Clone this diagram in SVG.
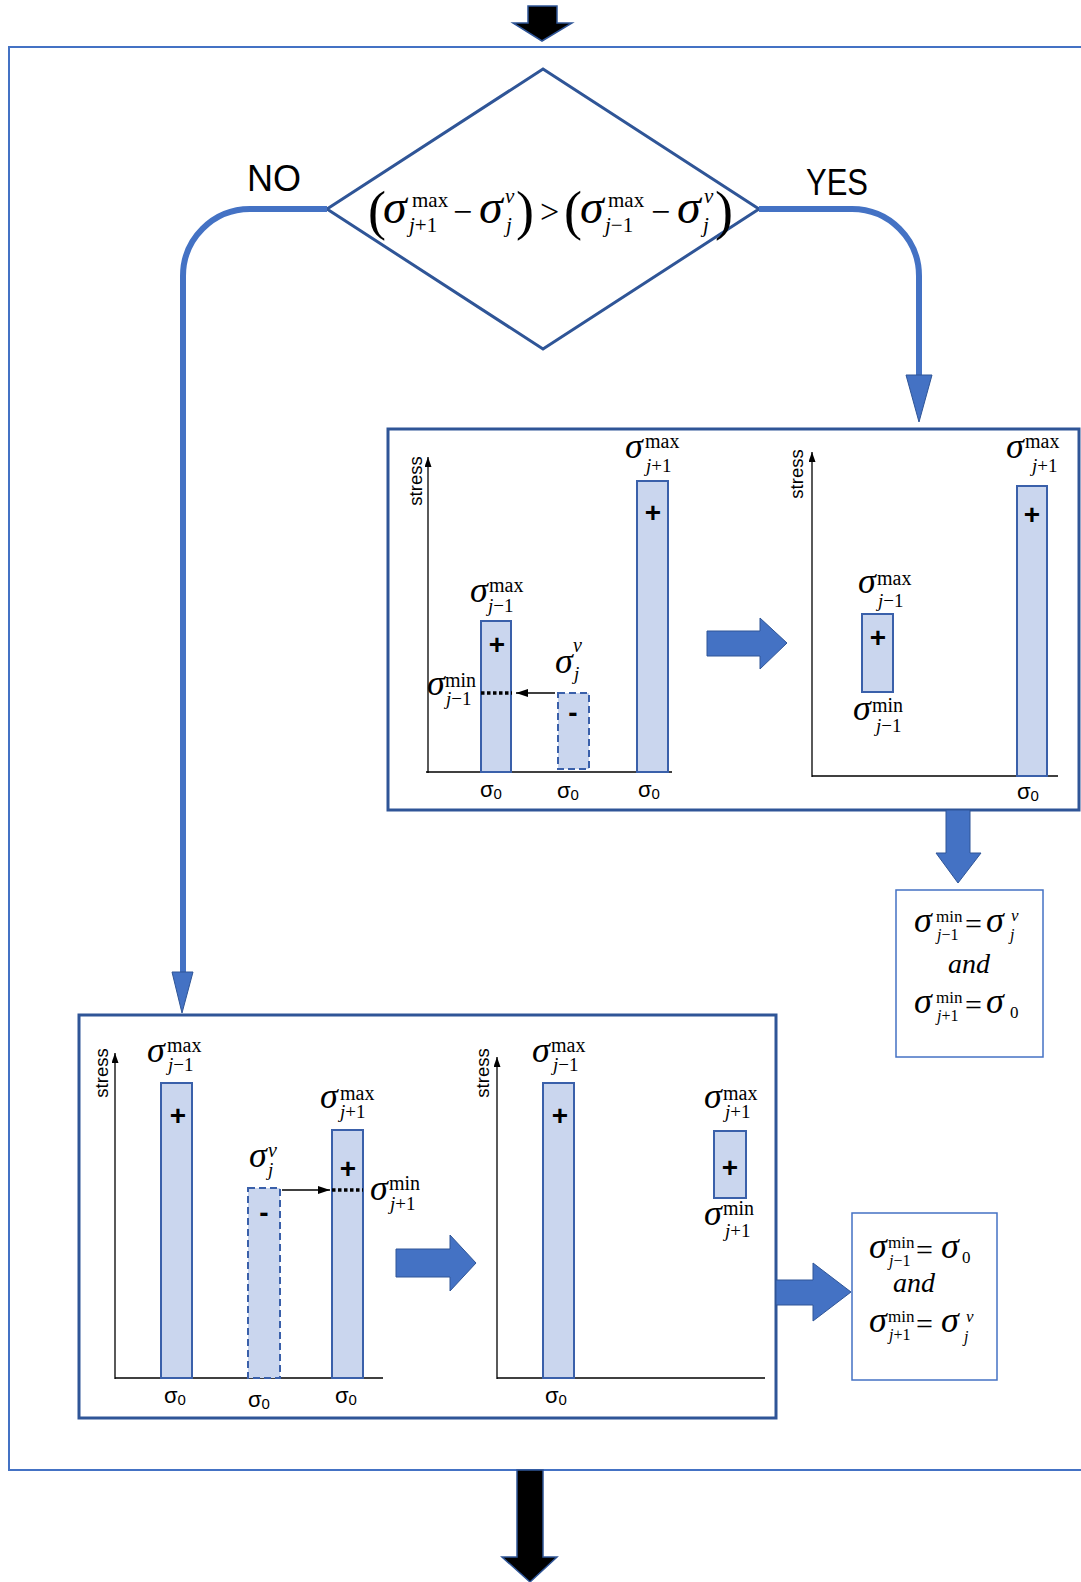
<svg xmlns="http://www.w3.org/2000/svg" width="1081" height="1582" viewBox="0 0 1081 1582">
<style>
.bg{fill:#ffffff}
.outer{fill:none;stroke:#4472C4;stroke-width:2}
.panel{fill:#ffffff;stroke:#2F5597;stroke-width:3}
.res{fill:#ffffff;stroke:#4472C4;stroke-width:1.5}
.bar{fill:#CAD6EE;stroke:#3A60AA;stroke-width:2}
.dbar{fill:#CAD6EE;stroke:#3A60AA;stroke-width:2;stroke-dasharray:7 4}
.axis{fill:none;stroke:#000;stroke-width:1.3}
.dot{fill:none;stroke:#000;stroke-width:3.5;stroke-dasharray:3.5 2.5}
.thin{fill:none;stroke:#000;stroke-width:1.5}
.conn{fill:none;stroke:#4472C4;stroke-width:6}
.head{fill:#4472C4;stroke:#2F5597;stroke-width:1}
.block{fill:#4472C4;stroke:#2F5597;stroke-width:1}
.black{fill:#000;stroke:#2F5597;stroke-width:1.5}
.sig{font-family:"Liberation Serif",serif;font-style:italic;font-size:36px;fill:#000}
.sup{font-family:"Liberation Serif",serif;font-size:20px;fill:#000}
.sub{font-family:"Liberation Serif",serif;font-size:19px;fill:#000}
.rsup{font-family:"Liberation Serif",serif;font-size:17px;fill:#000}
.rsub{font-family:"Liberation Serif",serif;font-size:16px;fill:#000}
.eq{font-family:"Liberation Serif",serif;font-size:30px;fill:#000}
.and{font-family:"Liberation Serif",serif;font-style:italic;font-size:28px;fill:#000}
.it{font-style:italic}
.fsig{font-family:"Liberation Serif",serif;font-style:italic;font-size:48px;fill:#000}
.fscr{font-family:"Liberation Serif",serif;font-size:21px;fill:#000}
.fop{font-family:"Liberation Serif",serif;font-size:34px;fill:#000}
.par{font-family:"Liberation Serif",serif;font-size:54px;fill:#000}
.stress{font-family:"Liberation Sans",sans-serif;font-size:18.5px;fill:#000;text-anchor:middle}
.s0{font-family:"Liberation Sans",sans-serif;font-size:22px;fill:#000;text-anchor:middle}
.plus{font-family:"Liberation Sans",sans-serif;font-weight:bold;font-size:28px;fill:#000;text-anchor:middle}
.lbl{font-family:"Liberation Sans",sans-serif;font-size:36px;fill:#000}
</style>
<defs>
<marker id="ax" markerUnits="userSpaceOnUse" markerWidth="10" markerHeight="7" refX="10" refY="3.5" orient="auto"><path d="M0,0 L10,3.5 L0,7 z" fill="#000"/></marker>
<marker id="sa" markerUnits="userSpaceOnUse" markerWidth="12" markerHeight="8" refX="12" refY="4" orient="auto"><path d="M0,0 L12,4 L0,8 z" fill="#000"/></marker>
</defs>
<rect class="bg" x="0" y="0" width="1081" height="1582"/>

<g id="outer-frame">
<rect class="outer" x="9" y="47" width="1090" height="1423"/>
</g>

<g id="top-arrow">
<polygon class="black" points="528,6 557,6 557,23 572,23 542,41 513,23 528,23"/>
</g>
<g id="bottom-arrow">
<polygon class="black" points="517,1470 543,1470 543,1557 557,1557 530,1582 502,1557 517,1557"/>
</g>

<g id="decision">
<polygon points="543,69 759,209 543,349 327,209" fill="#fff" stroke="#2F5597" stroke-width="3"/>
<text class="par" x="368" y="229">(</text>
<text class="fsig" x="383" y="223">σ</text>
<text class="fscr" x="412" y="207">max</text>
<text class="fscr" x="409" y="232"><tspan class="it">j</tspan>+1</text>
<text class="fop" x="453" y="223">−</text>
<text class="fsig" x="479" y="223">σ</text>
<text class="fscr it" x="505" y="203">v</text>
<text class="fscr it" x="506" y="232">j</text>
<text class="par" x="516" y="229">)</text>
<text class="fop" x="540" y="223">&gt;</text>
<text class="par" x="564" y="229">(</text>
<text class="fsig" x="580" y="223">σ</text>
<text class="fscr" x="608" y="207">max</text>
<text class="fscr" x="605" y="232"><tspan class="it">j</tspan>−1</text>
<text class="fop" x="651" y="223">−</text>
<text class="fsig" x="677" y="223">σ</text>
<text class="fscr it" x="704" y="203">v</text>
<text class="fscr it" x="703" y="232">j</text>
<text class="par" x="715" y="229">)</text>
</g>

<g id="yes-panel">
<rect class="panel" x="388" y="429" width="691" height="381"/>
<!-- left chart -->
<line class="axis" x1="428" y1="773" x2="428" y2="457" marker-end="url(#ax)"/>
<line class="axis" x1="426" y1="772" x2="672" y2="772"/>
<text class="stress" transform="translate(422,481) rotate(-90)">stress</text>
<rect class="bar" x="481" y="621" width="30" height="151"/>
<rect class="dbar" x="558" y="693" width="31" height="76"/>
<rect class="bar" x="637" y="481" width="31" height="291"/>
<line class="dot" x1="481" y1="693" x2="512" y2="693"/>
<line class="thin" x1="555" y1="693" x2="516" y2="693" marker-end="url(#sa)"/>
<text class="plus" x="497" y="654">+</text>
<text class="plus" x="573" y="722">-</text>
<text class="plus" x="653" y="522">+</text>
<text class="sig" x="470" y="602">σ</text><text class="sup" x="489" y="592">max</text><text class="sub" x="488" y="612"><tspan class="it">j</tspan>−1</text>
<text class="sig" x="427" y="695">σ</text><text class="sup" x="445" y="687">min</text><text class="sub" x="446" y="705"><tspan class="it">j</tspan>−1</text>
<text class="sig" x="555" y="673">σ</text><text class="sup it" x="573" y="652">v</text><text class="sub it" x="574" y="680">j</text>
<text class="sig" x="625" y="458">σ</text><text class="sup" x="645" y="448">max</text><text class="sub" x="646" y="472"><tspan class="it">j</tspan>+1</text>
<text class="s0" x="491" y="797">σ<tspan font-size="15" dy="2">0</tspan></text>
<text class="s0" x="568" y="798">σ<tspan font-size="15" dy="2">0</tspan></text>
<text class="s0" x="649" y="797">σ<tspan font-size="15" dy="2">0</tspan></text>
<!-- block arrow -->
<polygon class="block" points="707,631 760,631 760,618 787,643 760,669 760,656 707,656"/>
<!-- right chart -->
<line class="axis" x1="812" y1="777" x2="812" y2="452" marker-end="url(#ax)"/>
<line class="axis" x1="812" y1="776" x2="1058" y2="776"/>
<text class="stress" transform="translate(803,474) rotate(-90)">stress</text>
<rect class="bar" x="862" y="614" width="31" height="78"/>
<rect class="bar" x="1017" y="486" width="30" height="290"/>
<text class="plus" x="878" y="647">+</text>
<text class="plus" x="1032" y="524">+</text>
<text class="sig" x="858" y="593">σ</text><text class="sup" x="877" y="585">max</text><text class="sub" x="878" y="607"><tspan class="it">j</tspan>−1</text>
<text class="sig" x="853" y="720">σ</text><text class="sup" x="872" y="712">min</text><text class="sub" x="876" y="732"><tspan class="it">j</tspan>−1</text>
<text class="sig" x="1006" y="458">σ</text><text class="sup" x="1025" y="448">max</text><text class="sub" x="1032" y="472"><tspan class="it">j</tspan>+1</text>
<text class="s0" x="1028" y="799">σ<tspan font-size="15" dy="2">0</tspan></text>
</g>

<g id="yes-result">
<rect class="res" x="896" y="890" width="147" height="167"/>
<text class="sig" x="914" y="932">σ</text><text class="rsup" x="936" y="922">min</text><text class="rsub" x="937" y="940"><tspan class="it">j</tspan>−1</text>
<text class="eq" x="965" y="934">=</text>
<text class="sig" x="986" y="932">σ</text><text class="rsup it" x="1011" y="921">v</text><text class="rsub it" x="1010" y="940">j</text>
<text class="and" x="948" y="973">and</text>
<text class="sig" x="914" y="1013">σ</text><text class="rsup" x="936" y="1003">min</text><text class="rsub" x="937" y="1021"><tspan class="it">j</tspan>+1</text>
<text class="eq" x="965" y="1015">=</text>
<text class="sig" x="986" y="1013">σ</text><text class="rsup" x="1010" y="1018">0</text>
</g>

<g id="no-panel">
<rect class="panel" x="79" y="1015" width="697" height="403"/>
<!-- left chart -->
<line class="axis" x1="115" y1="1379" x2="115" y2="1053" marker-end="url(#ax)"/>
<line class="axis" x1="115" y1="1378" x2="383" y2="1378"/>
<text class="stress" transform="translate(108,1073) rotate(-90)">stress</text>
<rect class="bar" x="161" y="1083" width="31" height="295"/>
<rect class="dbar" x="248" y="1188" width="32" height="190"/>
<rect class="bar" x="332" y="1130" width="31" height="248"/>
<line class="dot" x1="332" y1="1190" x2="363" y2="1190"/>
<line class="thin" x1="282" y1="1190" x2="330" y2="1190" marker-end="url(#sa)"/>
<text class="plus" x="178" y="1125">+</text>
<text class="plus" x="264" y="1222">-</text>
<text class="plus" x="348" y="1178">+</text>
<text class="sig" x="147" y="1062">σ</text><text class="sup" x="167" y="1052">max</text><text class="sub" x="168" y="1071"><tspan class="it">j</tspan>−1</text>
<text class="sig" x="320" y="1108">σ</text><text class="sup" x="340" y="1100">max</text><text class="sub" x="340" y="1118"><tspan class="it">j</tspan>+1</text>
<text class="sig" x="249" y="1167">σ</text><text class="sup it" x="268" y="1157">v</text><text class="sub it" x="268" y="1176">j</text>
<text class="sig" x="370" y="1200">σ</text><text class="sup" x="389" y="1190">min</text><text class="sub" x="390" y="1210"><tspan class="it">j</tspan>+1</text>
<text class="s0" x="175" y="1403">σ<tspan font-size="15" dy="2">0</tspan></text>
<text class="s0" x="259" y="1407">σ<tspan font-size="15" dy="2">0</tspan></text>
<text class="s0" x="346" y="1403">σ<tspan font-size="15" dy="2">0</tspan></text>
<polygon class="block" points="396,1249 450,1249 450,1235 476,1263 450,1291 450,1277 396,1277"/>
<!-- right chart -->
<line class="axis" x1="497" y1="1379" x2="497" y2="1057" marker-end="url(#ax)"/>
<line class="axis" x1="497" y1="1378" x2="765" y2="1378"/>
<text class="stress" transform="translate(489,1073) rotate(-90)">stress</text>
<rect class="bar" x="543" y="1083" width="31" height="295"/>
<rect class="bar" x="714" y="1131" width="32" height="67"/>
<text class="plus" x="560" y="1125">+</text>
<text class="plus" x="730" y="1177">+</text>
<text class="sig" x="532" y="1062">σ</text><text class="sup" x="551" y="1052">max</text><text class="sub" x="553" y="1071"><tspan class="it">j</tspan>−1</text>
<text class="sig" x="704" y="1108">σ</text><text class="sup" x="723" y="1100">max</text><text class="sub" x="725" y="1118"><tspan class="it">j</tspan>+1</text>
<text class="sig" x="704" y="1225">σ</text><text class="sup" x="723" y="1215">min</text><text class="sub" x="725" y="1237"><tspan class="it">j</tspan>+1</text>
<text class="s0" x="556" y="1403">σ<tspan font-size="15" dy="2">0</tspan></text>
</g>

<g id="no-result">
<rect class="res" x="852" y="1213" width="145" height="167"/>
<text class="sig" x="869" y="1258">σ</text><text class="rsup" x="888" y="1248">min</text><text class="rsub" x="889" y="1266"><tspan class="it">j</tspan>−1</text>
<text class="eq" x="916" y="1260">=</text>
<text class="sig" x="941" y="1258">σ</text><text class="rsup" x="962" y="1263">0</text>
<text class="and" x="893" y="1292">and</text>
<text class="sig" x="869" y="1332">σ</text><text class="rsup" x="888" y="1322">min</text><text class="rsub" x="889" y="1340"><tspan class="it">j</tspan>+1</text>
<text class="eq" x="916" y="1334">=</text>
<text class="sig" x="941" y="1332">σ</text><text class="rsup it" x="966" y="1322">v</text><text class="rsub it" x="964" y="1342">j</text>
</g>

<g id="connectors">
<path class="conn" d="M327,209 H250 A67,67 0 0 0 183,276 V974"/>
<polygon class="head" points="172,972 193,972 182,1013"/>
<text class="lbl" x="247" y="191">NO</text>
<path class="conn" d="M759,209 H852 A67,67 0 0 1 919,276 V377"/>
<polygon class="head" points="906,375 932,375 919,422"/>
<text class="lbl" x="806" y="195" textLength="62" lengthAdjust="spacingAndGlyphs">YES</text>
<polygon class="block" points="946,810 970,810 970,853 981,853 958,883 936,853 946,853"/>
<polygon class="block" points="776,1280 813,1280 813,1263 851,1292 813,1321 813,1305 776,1305"/>
</g>
</svg>
